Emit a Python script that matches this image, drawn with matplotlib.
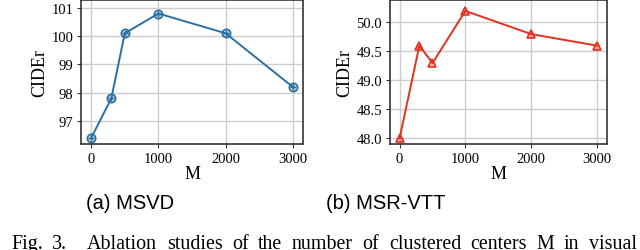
import numpy as np
import matplotlib.pyplot as plt

M = [0, 300, 500, 1000, 2000, 3000]
msvd = [96.4, 97.8, 100.1, 100.8, 100.1, 98.2]
msrvtt = [48.0, 49.6, 49.3, 50.2, 49.8, 49.6]

caption_words = ['Fig.', '3.', 'Ablation', 'studies', 'of', 'the', 'number', 'of',
                 'clustered', 'centers', 'M', 'in', 'visual']

plt.rcParams['font.family'] = ['Liberation Serif', 'DejaVu Serif']

fig = plt.figure(figsize=(6.4, 2.51), dpi=100)

ax1 = fig.add_axes([0.1266, 0.4223, 0.347, 0.574])
ax2 = fig.add_axes([0.609, 0.4223, 0.339, 0.574])

blue = '#2b70a0'
red = '#e5301f'

ax1.plot(M, msvd, color=blue, lw=1.4, marker='o', ms=6, mfc=(0.17, 0.44, 0.63, 0.3), mec=blue, mew=1.2)
ax1.plot(M, msvd, ls='none', marker='+', ms=5, mec=blue, mew=1.0)
ax1.set_ylim(96.19, 101.28)
ax1.set_yticks([97, 98, 99, 100, 101])

ax2.plot(M, msrvtt, color=red, lw=1.4, marker='^', ms=6, mfc=(0.9, 0.19, 0.12, 0.35), mec=red, mew=1.2)
ax2.set_ylim(47.9, 50.39)
ax2.set_yticks([48.0, 48.5, 49.0, 49.5, 50.0])
ax2.set_yticklabels(['48.0', '48.5', '49.0', '49.5', '50.0'])

for ax in (ax1, ax2):
    ax.set_xticks([0, 1000, 2000, 3000])
    ax.grid(True, color='#cccccc', lw=1.0)
    ax.set_axisbelow(True)
    for s in ax.spines.values():
        s.set_color('#333333')
        s.set_linewidth(1.2)
    ax.tick_params(labelsize=10.5, length=3, width=0.8, color='#333333', pad=2.5)
    ax.set_xlabel('M', fontsize=13, labelpad=0)
    ax.set_ylabel('CIDEr', fontsize=13, labelpad=2)

sans = ['Liberation Sans', 'DejaVu Sans']
fig.text(0.203, 0.19, '(a) MSVD', fontsize=14.5, ha='center', va='center', family=sans)
fig.text(0.602, 0.19, '(b) MSR-VTT', fontsize=14.5, ha='center', va='center', family=sans)

# justified caption line, cut at the bottom like the page crop
fig.canvas.draw()
r = fig.canvas.get_renderer()
x_left, x_right = 11, 637
texts = [fig.text(0, 0, w, fontsize=14.4, ha='left', va='baseline') for w in caption_words]
widths = [t.get_window_extent(r).width for t in texts]
extra = 10  # wider gap after the figure number
gap = (x_right - x_left - sum(widths) - extra) / (len(texts) - 1)
x = x_left
for i, (t, w) in enumerate(zip(texts, widths)):
    t.set_position((x / 640, 1.5 / 251))
    x += w + gap + (extra if i == 1 else 0)

fig.savefig('out.png', dpi=100)
